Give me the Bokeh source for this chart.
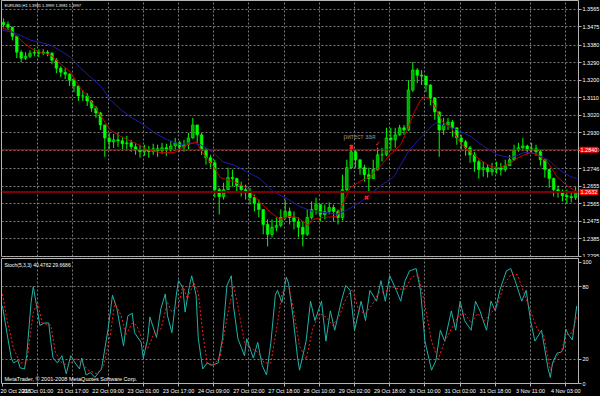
from bokeh.plotting import figure
from bokeh.layouts import column
from bokeh.models import (ColumnDataSource, FixedTicker, Range1d, Span, Label,
                          NumeralTickFormatter)
from bokeh.embed import file_html
from bokeh.resources import INLINE
from bokeh.core.properties import value

FONT = "Liberation Sans"

symbol_title = "EURUSD,H1  1.3981 1.3999 1.3981 1.3997"
stoch_title = "Stoch(5,3,3) 40.4762 29.6686"
copyright_text = "MetaTrader, \u00a9 2001-2008 MetaQuotes Software Corp."
note_text = "ритест зая"

# ---- price data: 2-hour candles (hour index of each candle start) ----
first_open = 1.3498
close = [1.3488, 1.3473, 1.3427, 1.3345, 1.3314, 1.3324, 1.3340, 1.3345, 1.3340, 1.3345,
         1.3340, 1.3304, 1.3263, 1.3242, 1.3232, 1.3201, 1.3171, 1.3120, 1.3120, 1.3094,
         1.3058, 1.3032, 1.2971, 1.2904, 1.2884, 1.2894, 1.2889, 1.2874, 1.2879, 1.2858,
         1.2843, 1.2833, 1.2843, 1.2833, 1.2848, 1.2838, 1.2853, 1.2843, 1.2863, 1.2879,
         1.2858, 1.2869, 1.2904, 1.2971, 1.2920, 1.2843, 1.2802, 1.2776, 1.2638, 1.2602,
         1.2638, 1.2700, 1.2695, 1.2659, 1.2638, 1.2628, 1.2597, 1.2567, 1.2536, 1.2459,
         1.2408, 1.2444, 1.2454, 1.2495, 1.2526, 1.2495, 1.2474, 1.2444, 1.2408, 1.2495,
         1.2536, 1.2561, 1.2510, 1.2526, 1.2546, 1.2526, 1.2495, 1.2638, 1.2751, 1.2833,
         1.2792, 1.2751, 1.2715, 1.2695, 1.2741, 1.2817, 1.2817, 1.2904, 1.2894, 1.2920,
         1.2956, 1.2945, 1.3150, 1.3253, 1.3227, 1.3222, 1.3176, 1.3109, 1.3038, 1.2945,
         1.2971, 1.2986, 1.2956, 1.2904, 1.2884, 1.2853, 1.2817, 1.2782, 1.2741, 1.2751,
         1.2730, 1.2741, 1.2751, 1.2741, 1.2761, 1.2792, 1.2843, 1.2853, 1.2863, 1.2843,
         1.2848, 1.2833, 1.2792, 1.2741, 1.2695, 1.2638, 1.2623, 1.2607, 1.2602, 1.2597, 1.2628]
high = [1.3519, 1.3503, 1.3476, 1.3430, 1.3355, 1.3345, 1.3355, 1.3365, 1.3360, 1.3360,
        1.3355, 1.3345, 1.3314, 1.3273, 1.3263, 1.3237, 1.3212, 1.3176, 1.3150, 1.3135,
        1.3099, 1.3068, 1.3038, 1.2971, 1.2930, 1.2925, 1.2930, 1.2910, 1.2915, 1.2894,
        1.2879, 1.2869, 1.2869, 1.2863, 1.2874, 1.2869, 1.2879, 1.2874, 1.2889, 1.2904,
        1.2889, 1.2894, 1.2930, 1.3007, 1.2971, 1.2930, 1.2853, 1.2817, 1.2792, 1.2648,
        1.2674, 1.2751, 1.2741, 1.2700, 1.2679, 1.2664, 1.2648, 1.2613, 1.2587, 1.2536,
        1.2485, 1.2485, 1.2495, 1.2536, 1.2587, 1.2546, 1.2526, 1.2495, 1.2474, 1.2536,
        1.2577, 1.2597, 1.2561, 1.2561, 1.2572, 1.2561, 1.2536, 1.2715, 1.2792, 1.2869,
        1.2843, 1.2792, 1.2766, 1.2751, 1.2792, 1.2853, 1.2853, 1.2956, 1.2956, 1.2956,
        1.2971, 1.2971, 1.3201, 1.3294, 1.3263, 1.3253, 1.3222, 1.3180, 1.3112, 1.3040,
        1.3007, 1.3007, 1.2997, 1.2956, 1.2920, 1.2894, 1.2863, 1.2833, 1.2792, 1.2782,
        1.2766, 1.2776, 1.2782, 1.2776, 1.2792, 1.2817, 1.2869, 1.2879, 1.2904, 1.2869,
        1.2879, 1.2869, 1.2843, 1.2792, 1.2745, 1.2700, 1.2659, 1.2638, 1.2638, 1.2628, 1.2654]
low = [1.3473, 1.3457, 1.3406, 1.3314, 1.3294, 1.3304, 1.3314, 1.3324, 1.3319, 1.3329,
       1.3324, 1.3283, 1.3237, 1.3217, 1.3207, 1.3171, 1.3140, 1.3094, 1.3094, 1.3068,
       1.3038, 1.3007, 1.2945, 1.2807, 1.2843, 1.2853, 1.2858, 1.2843, 1.2843, 1.2833,
       1.2817, 1.2802, 1.2812, 1.2802, 1.2817, 1.2807, 1.2822, 1.2812, 1.2833, 1.2843,
       1.2833, 1.2833, 1.2843, 1.2900, 1.2879, 1.2817, 1.2766, 1.2751, 1.2597, 1.2510,
       1.2587, 1.2638, 1.2654, 1.2623, 1.2602, 1.2587, 1.2561, 1.2526, 1.2495, 1.2408,
       1.2346, 1.2392, 1.2423, 1.2444, 1.2485, 1.2459, 1.2433, 1.2392, 1.2346, 1.2400,
       1.2485, 1.2510, 1.2474, 1.2485, 1.2510, 1.2474, 1.2459, 1.2480, 1.2630, 1.2745,
       1.2751, 1.2715, 1.2679, 1.2628, 1.2695, 1.2735, 1.2782, 1.2810, 1.2843, 1.2853,
       1.2915, 1.2920, 1.2940, 1.3140, 1.3186, 1.3176, 1.3140, 1.3073, 1.2997, 1.2807,
       1.2920, 1.2945, 1.2910, 1.2869, 1.2843, 1.2812, 1.2776, 1.2730, 1.2695, 1.2705,
       1.2700, 1.2710, 1.2720, 1.2710, 1.2730, 1.2761, 1.2785, 1.2833, 1.2843, 1.2822,
       1.2828, 1.2812, 1.2761, 1.2700, 1.2648, 1.2602, 1.2597, 1.2577, 1.2567, 1.2572, 1.2585]

# ---- moving averages (hour index, price) ----
ma_red_hour = [0, 4, 7, 10, 13, 17, 22, 26, 31, 35, 40, 45, 49, 54, 60, 66, 72, 78, 84, 88,
               91, 96, 99, 105, 111, 117, 122, 126, 130, 134, 139, 141, 146, 152, 155, 158, 163, 167, 172, 176,
               181, 184, 187, 190, 192, 195, 198, 200, 204, 208, 213, 217, 222, 226, 231, 235, 240, 243, 248, 252,
               257, 261]
ma_red = [1.3468, 1.3457, 1.3422, 1.3391, 1.3365, 1.3345, 1.3329, 1.3288, 1.3242, 1.3166,
          1.3099, 1.3012, 1.2945, 1.2910, 1.2879, 1.2843, 1.2828, 1.2828, 1.2869, 1.2884,
          1.2828, 1.2756, 1.2700, 1.2679, 1.2648, 1.2572, 1.2520, 1.2485, 1.2500, 1.2495,
          1.2454, 1.2485, 1.2495, 1.2500, 1.2572, 1.2648, 1.2684, 1.2705, 1.2761, 1.2817,
          1.2869, 1.2945, 1.3032, 1.3099, 1.3114, 1.3099, 1.3032, 1.2986, 1.2956, 1.2879,
          1.2828, 1.2792, 1.2756, 1.2751, 1.2776, 1.2807, 1.2828, 1.2817, 1.2776, 1.2705,
          1.2654, 1.2628]
ma_blue_hour = [0, 5, 8, 13, 17, 22, 26, 31, 35, 40, 45, 49, 54, 58, 63, 69, 75, 81, 85, 90,
                96, 100, 105, 111, 117, 123, 130, 135, 141, 148, 152, 157, 163, 172, 178, 181, 185, 190, 195, 197,
                200, 207, 213, 219, 225, 231, 237, 241, 248, 253, 258, 261]
ma_blue = [1.3457, 1.3447, 1.3432, 1.3406, 1.3396, 1.3381, 1.3355, 1.3319, 1.3268, 1.3217,
           1.3166, 1.3099, 1.3048, 1.3012, 1.2981, 1.2930, 1.2894, 1.2869, 1.2879, 1.2869,
           1.2828, 1.2782, 1.2766, 1.2730, 1.2695, 1.2628, 1.2587, 1.2551, 1.2526, 1.2520,
           1.2510, 1.2536, 1.2577, 1.2659, 1.2705, 1.2766, 1.2843, 1.2904, 1.2966, 1.2981,
           1.2971, 1.2945, 1.2910, 1.2858, 1.2817, 1.2802, 1.2828, 1.2828, 1.2792, 1.2741,
           1.2705, 1.2695]

# ---- stochastic (hour index, value) ----
stoch_k_hour = [0, 2, 4, 5, 7, 8, 10, 11, 13, 14, 16, 17, 19, 21, 22, 23, 25, 27, 29, 31,
                33, 35, 36, 38, 40, 42, 45, 48, 50, 52, 55, 56, 57, 59, 60, 63, 64, 66, 67, 70,
                72, 74, 75, 77, 79, 80, 82, 83, 85, 86, 88, 89, 91, 93, 95, 98, 100, 102, 104, 105,
                107, 110, 111, 114, 116, 118, 120, 122, 124, 125, 127, 129, 130, 132, 134, 135,
                138, 140, 142, 145, 147, 149, 151, 154, 156, 158, 160, 163, 165, 167, 170, 172, 174, 176, 179, 181,
                183, 185, 188, 190, 192, 195, 197, 199, 201, 204, 206, 208, 210, 213, 215, 217, 220, 222, 224, 226,
                229, 231, 233, 236, 238, 240, 242, 245, 248, 249, 250, 252, 254, 255, 256, 257, 259, 260, 261]
stoch_k = [64, 42, 21, 17, 19, 13, 12, 23, 67, 80, 59, 48, 50, 50, 34, 21, 17, 23, 8, 23,
           17, 12, 21, 7, 9, 5, 12, 45, 73, 62, 31, 45, 56, 58, 42, 34, 21, 37, 55, 38,
           62, 74, 56, 42, 73, 85, 79, 59, 81, 89, 73, 37, 12, 17, 15, 17, 37, 81, 89, 64,
           37, 23, 37, 21, 34, 15, 7, 34, 73, 77, 67, 88, 83, 56, 23, 11,
           35, 68, 52, 68, 35, 60, 44, 68, 81, 77, 44, 68, 52, 77, 68, 85, 68, 89, 77, 68,
           85, 93, 95, 77, 35, 11, 19, 44, 35, 60, 44, 68, 52, 44, 68, 60, 44, 68, 60, 77,
           93, 95, 85, 68, 77, 52, 35, 44, 12, 5, 17, 25, 26, 29, 45, 41, 36, 50, 64]
stoch_d_hour = [0, 2, 5, 8, 11, 14, 16, 18, 22, 24, 27, 30, 33, 36, 39, 43, 46, 49, 51, 54,
                56, 59, 61, 64, 66, 69, 72, 75, 77, 80, 82, 84, 87, 89, 91, 93, 96, 99, 102, 105,
                107, 110, 113, 116, 119, 122, 125, 127, 130, 132, 135,
                138, 141, 144, 147, 150, 153, 156, 159, 162, 165, 168, 171, 174, 177, 180, 183, 186, 189, 192, 195,
                198, 201, 204, 207, 210, 213, 216, 219, 222, 225, 228, 231, 234, 237, 240, 243, 246, 249, 252, 254,
                256, 259, 261]
stoch_d = [74, 53, 29, 17, 17, 59, 67, 50, 48, 26, 17, 15, 21, 17, 11, 8, 15, 40, 67, 56,
           40, 50, 48, 34, 29, 42, 45, 67, 59, 64, 81, 70, 83, 75, 42, 17, 15, 23, 54, 81,
           64, 34, 29, 26, 17, 17, 50, 75, 81, 64, 31,
           20, 45, 58, 55, 48, 55, 70, 78, 60, 58, 65, 75, 76, 80, 78, 78, 88, 90, 65, 35,
           20, 35, 45, 55, 58, 50, 58, 52, 58, 65, 82, 90, 90, 75, 60, 45, 40, 11, 23, 26,
           40, 42, 56]

# ---- axis ticks ----
price_ticks = [1.3565, 1.3475, 1.3380, 1.3290, 1.3200, 1.3110, 1.3020, 1.2930,
               1.2840, 1.2746, 1.2655, 1.2565, 1.2475, 1.2385, 1.2295]
time_tick_hours = [0, 16, 32, 48, 64, 80, 96, 112, 128, 144, 160, 176, 192, 208, 224, 240, 256]
time_tick_labels = ["20 Oct 2008", "21 Oct 01:00", "21 Oct 17:00", "22 Oct 09:00", "23 Oct 01:00",
                    "23 Oct 17:00", "24 Oct 09:00", "27 Oct 02:00", "27 Oct 18:00", "28 Oct 10:00",
                    "29 Oct 02:00", "29 Oct 18:00", "30 Oct 10:00", "31 Oct 02:00", "31 Oct 18:00",
                    "3 Nov 11:00", "4 Nov 03:00"]
stoch_ticks = [0, 20, 80, 100]
stoch_levels = [20, 80]

# ---- chart objects ----
hline_thin_price = 1.2843
hline_thick_price = 1.2626
hline_thin_label = "1.2840"
hline_thick_label = "1.2632"
marker_hour = [158.6, 165.5]
marker_price = [1.2858, 1.2597]
check_hour = [170.5]
check_price = [1.2874]
note_hour = 155.0
note_price = 1.2912

BG = "#000000"
FRAME = "#b4b4b4"
GRID = "#7c7c7c"
TXT = "#ffffff"

x_rng = Range1d(-0.45, 261.8)


def style_common(p):
    p.background_fill_color = BG
    p.border_fill_color = BG
    p.outline_line_color = FRAME
    p.outline_line_width = 1
    p.grid.grid_line_color = GRID
    p.grid.grid_line_dash = "2 2"
    p.grid.grid_line_width = 1
    for ax in p.yaxis:
        ax.major_label_text_color = TXT
        ax.major_label_text_font = FONT
        ax.major_label_text_font_size = "5.5px"
        ax.axis_line_color = None
        ax.major_tick_line_color = FRAME
        ax.major_tick_out = 3
        ax.major_tick_in = 0
        ax.minor_tick_line_color = None
        ax.major_label_standoff = 1


p1 = figure(frame_width=577, frame_height=256, x_range=x_rng,
            y_range=Range1d(1.2294, 1.3611), x_axis_location=None,
            y_axis_location="right", output_backend="svg", toolbar_location=None,
            min_border_left=1, min_border_right=0, min_border_top=0, min_border_bottom=1)
style_common(p1)
p1.xgrid.ticker = FixedTicker(ticks=time_tick_hours[1:])
p1.ygrid.ticker = FixedTicker(ticks=price_ticks)
p1.yaxis.ticker = FixedTicker(ticks=price_ticks)
p1.yaxis.formatter = NumeralTickFormatter(format="0.0000")

opens = [first_open] + close[:-1]
xc = [2 * i + 0.5 for i in range(len(close))]
tops = [max(o, c) for o, c in zip(opens, close)]
bots = [min(o, c) for o, c in zip(opens, close)]
fills = ["#00a800" if c >= o else "#00ff00" for o, c in zip(opens, close)]
src = ColumnDataSource(dict(x=xc, high=high, low=low, top=tops, bottom=bots, fill=fills))

p1.segment(x0="x", y0="high", x1="x", y1="low", line_color="#00ff00", line_width=1, source=src)
p1.vbar(x="x", width=1.2, top="top", bottom="bottom", fill_color="fill",
        line_color="#00ff00", line_width=0.6, source=src)

p1.line(ma_blue_hour, ma_blue, line_color="#1c1ca8", line_width=1)
p1.line(ma_red_hour, ma_red, line_color="#c80000", line_width=1)

p1.add_layout(Span(location=hline_thin_price, dimension="width", line_color="#d00000", line_width=1))
p1.add_layout(Span(location=hline_thick_price, dimension="width", line_color="#800000", line_width=2))

p1.scatter(marker_hour, marker_price, marker="x", size=5, line_color="#ff2020", line_width=1.5)
p1.text(check_hour, check_price, text=["\u2713"], text_color="#ff2020",
        text_font=value("DejaVu Sans"), text_font_size="7px",
        text_align="center", text_baseline="middle")

p1.add_layout(Label(x=note_hour, y=note_price, text=note_text, text_color="#8a8a8a",
                    text_font=FONT, text_font_size="6.5px", text_baseline="middle"))
p1.add_layout(Label(x=-0.45, y=1.3611, x_offset=3, y_offset=-2, text=symbol_title,
                    text_color=TXT, text_font=FONT, text_font_size="4px",
                    text_baseline="top"))
# price tags of the two horizontal lines, drawn over the right price scale (side panel => not clipped)
for price, txt in [(hline_thin_price, hline_thin_label), (hline_thick_price, hline_thick_label)]:
    p1.add_layout(Label(x=579, x_units="canvas", y=price, y_units="data",
                        text=txt, text_color="#ffffff",
                        text_font=FONT, text_font_size="5.5px", text_baseline="middle",
                        background_fill_color="#ff0000", background_fill_alpha=1.0,
                        padding=1), "right")

p2 = figure(frame_width=577, frame_height=125, x_range=x_rng,
            y_range=Range1d(0, 103.3), y_axis_location="right", x_axis_location="below",
            output_backend="svg", toolbar_location=None,
            min_border_left=1, min_border_right=0, min_border_top=1, min_border_bottom=0)
style_common(p2)
p2.xgrid.ticker = FixedTicker(ticks=time_tick_hours[1:])
p2.ygrid.ticker = FixedTicker(ticks=stoch_levels)
p2.yaxis.ticker = FixedTicker(ticks=stoch_ticks)
xa = p2.xaxis[0]
xa.ticker = FixedTicker(ticks=time_tick_hours)
xa.major_label_overrides = {h: t for h, t in zip(time_tick_hours, time_tick_labels)}
xa.major_label_text_align = "left"
xa.major_label_text_color = TXT
xa.major_label_text_font = FONT
xa.major_label_text_font_size = "5.5px"
xa.axis_line_color = None
xa.major_tick_line_color = FRAME
xa.major_tick_out = 3
xa.major_tick_in = 0
xa.minor_tick_line_color = None
xa.major_label_standoff = 1

p2.line(stoch_k_hour, stoch_k, line_color="#20b2aa", line_width=1)
p2.line(stoch_d_hour, stoch_d, line_color="#ff1a1a", line_width=1, line_dash="2 2")

p2.add_layout(Label(x=-0.45, y=103.3, x_offset=3, y_offset=-3, text=stoch_title,
                    text_color=TXT, text_font=FONT, text_font_size="5px", text_baseline="top"))
p2.add_layout(Label(x=-0.45, y=0, x_offset=3, y_offset=2, text=copyright_text,
                    text_color=TXT, text_font=FONT, text_font_size="5.5px", text_baseline="bottom"))

layout = column(p1, p2, spacing=0, styles={"background-color": "#000000"})
html = file_html(layout, INLINE)
html = html.replace("<body>", '<body style="margin:0;background:#000000;overflow:hidden;">')
open("out.html", "w").write(html)
